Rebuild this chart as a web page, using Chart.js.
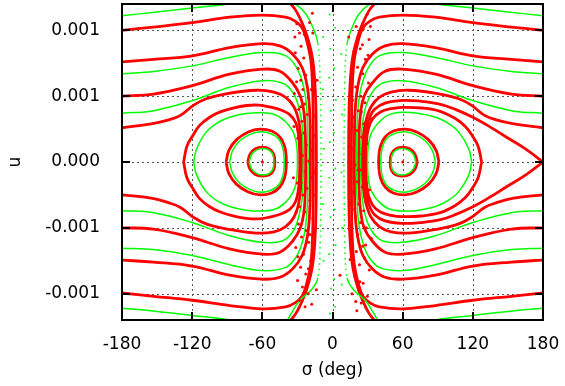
<!DOCTYPE html>
<html>
<head>
<meta charset="utf-8">
<script src="https://cdn.jsdelivr.net/npm/chart.js@4"></script>
<style>
  html, body { margin: 0; padding: 0; background: #fff; }
  canvas { display: block; }
</style>
</head>
<body>
<canvas id="grafico" width="565" height="386"></canvas>
<script>
// axes (u is stored in units of 1e-3)
const xTicks = [-180, -120, -60, 0, 60, 120, 180];
const xTickLabels = ['-180', '-120', '-60', '0', '60', '120', '180'];
const yTicks = [-1, -0.5, 0, 0.5, 1];
const yTickLabels = ['-0.001', '-0.001', '0.000', '0.001', '0.001'];

// tadpole orbits, island at sigma = -60
const tadL1r = [[-72.5,0],[-70.5,0.06],[-66,0.1],[-60,0.113],[-54,0.1],[-50.3,0.06],[-49.3,0],[-50.3,-0.06],[-54,-0.097],[-60,-0.107],[-66,-0.095],[-70.5,-0.055],[-72.5,0]];
const tadL1g = [[-71.2,0],[-69.3,0.055],[-65,0.09],[-59.5,0.102],[-54.3,0.09],[-51,0.055],[-50.2,0],[-51,-0.055],[-54.3,-0.088],[-59.5,-0.099],[-65,-0.086],[-69.3,-0.05],[-71.2,0]];
const tadL2r = [[-91,0],[-88.5,0.09],[-82,0.17],[-72,0.228],[-62,0.25],[-52,0.235],[-45,0.19],[-41,0.12],[-39.6,0.04],[-39.6,-0.04],[-41,-0.12],[-45,-0.19],[-52,-0.235],[-62,-0.25],[-72,-0.228],[-82,-0.17],[-88.5,-0.09],[-91,0]];
const tadL2g = [[-88,0],[-85.5,0.085],[-79.5,0.16],[-70.5,0.21],[-61.5,0.23],[-52.5,0.215],[-46,0.175],[-42.6,0.11],[-41.4,0.035],[-41.4,-0.035],[-42.6,-0.11],[-46,-0.175],[-52.5,-0.215],[-61.5,-0.23],[-70.5,-0.21],[-79.5,-0.16],[-85.5,-0.085],[-88,0]];
const tadL3g = [[-118.7,0],[-116.2,0.1],[-108,0.227],[-98,0.3],[-88,0.34],[-74,0.368],[-60,0.374],[-48,0.355],[-39.5,0.3],[-33.8,0.23],[-31.2,0.16],[-30.2,0.08],[-30,0],[-30.2,-0.08],[-31.2,-0.16],[-33.8,-0.23],[-39.5,-0.3],[-48,-0.355],[-60,-0.372],[-74,-0.366],[-88,-0.338],[-98,-0.298],[-108,-0.225],[-116.2,-0.1],[-118.7,0]];
const tadL3r = [[-127.3,0],[-124.5,0.12],[-119.5,0.2],[-113.6,0.278],[-105,0.34],[-96.5,0.379],[-85,0.41],[-73.7,0.429],[-63,0.432],[-53.7,0.418],[-44,0.395],[-36.6,0.36],[-31.5,0.3],[-29,0.2],[-28.2,0.1],[-28,0],[-28.2,-0.1],[-29,-0.2],[-31.5,-0.3],[-36.6,-0.36],[-44,-0.395],[-53.7,-0.418],[-63,-0.432],[-73.7,-0.428],[-85,-0.41],[-96.5,-0.378],[-105,-0.34],[-113.6,-0.278],[-119.5,-0.2],[-124.5,-0.12],[-127.3,0]];

// tadpole orbits, island at sigma = +60
const tadR1r = [[72.5,0],[70.5,0.06],[66,0.1],[60,0.113],[54,0.1],[50.3,0.06],[49.3,0],[50.3,-0.06],[54,-0.097],[60,-0.107],[66,-0.095],[70.5,-0.055],[72.5,0]];
const tadR1g = [[71.2,0],[69.3,0.055],[65,0.09],[59.5,0.102],[54.3,0.09],[51,0.055],[50.2,0],[51,-0.055],[54.3,-0.088],[59.5,-0.099],[65,-0.086],[69.3,-0.05],[71.2,0]];
const tadR2r = [[91,0],[88.5,0.09],[82,0.17],[72,0.228],[62,0.25],[52,0.235],[45,0.19],[41,0.12],[39.6,0.04],[39.6,-0.04],[41,-0.12],[45,-0.19],[52,-0.235],[62,-0.25],[72,-0.228],[82,-0.17],[88.5,-0.09],[91,0]];
const tadR2g = [[88,0],[85.5,0.085],[79.5,0.16],[70.5,0.21],[61.5,0.23],[52.5,0.215],[46,0.175],[42.6,0.11],[41.4,0.035],[41.4,-0.035],[42.6,-0.11],[46,-0.175],[52.5,-0.215],[61.5,-0.23],[70.5,-0.21],[79.5,-0.16],[85.5,-0.085],[88,0]];
const tadR3g = [[119,0],[116.5,0.1],[108,0.227],[98,0.3],[88,0.34],[74,0.368],[60,0.378],[48,0.358],[39.5,0.3],[33.8,0.23],[31.2,0.16],[30.2,0.08],[30,0],[30.2,-0.08],[31.2,-0.16],[33.8,-0.23],[39.5,-0.3],[48,-0.355],[60,-0.372],[74,-0.366],[88,-0.338],[98,-0.298],[108,-0.225],[116.5,-0.1],[119,0]];
const tadR3r = [[127.5,0],[124.5,0.12],[119.5,0.2],[113.6,0.27],[105,0.33],[92,0.385],[76,0.41],[60,0.415],[50,0.405],[41,0.38],[34.5,0.33],[30.6,0.25],[29,0.15],[28.6,0],[29,-0.15],[30.6,-0.25],[34.5,-0.33],[41,-0.38],[50,-0.405],[60,-0.415],[76,-0.41],[92,-0.385],[105,-0.33],[113.6,-0.27],[119.5,-0.2],[124.5,-0.12],[127.5,0]];
const sepR = [[180,0],[165,0.1],[148.5,0.19],[135,0.265],[120,0.34],[105,0.4],[91.6,0.44],[75,0.462],[60,0.468],[45,0.447],[36,0.4],[31,0.32],[28,0.2],[27.1,0.08],[26.9,0],[27.1,-0.08],[28,-0.2],[31,-0.32],[36,-0.4],[45,-0.447],[60,-0.466],[75,-0.46],[91.6,-0.44],[105,-0.4],[120,-0.34],[135,-0.265],[148.5,-0.19],[165,-0.1],[180,0]];
const islandCenters = [[-60,0],[60,0]];

// horseshoe orbits, left half
const hsL1r = [[-180,0.26],[-155,0.29],[-140,0.32],[-130,0.354],[-119,0.43],[-108,0.48],[-90,0.52],[-65,0.545],[-50,0.53],[-40,0.49],[-33,0.42],[-28.8,0.31],[-27,0.17],[-26.5,0],[-27,-0.17],[-28.8,-0.31],[-33,-0.42],[-40,-0.49],[-50,-0.53],[-65,-0.54],[-90,-0.51],[-108,-0.47],[-119,-0.42],[-130,-0.345],[-140,-0.31],[-155,-0.275],[-180,-0.25]];
const hsL2g = [[-180,0.37],[-153,0.39],[-120,0.466],[-88,0.567],[-60,0.617],[-43,0.6],[-34,0.53],[-29,0.42],[-26,0.28],[-25.2,0.13],[-25,0],[-25.2,-0.13],[-26,-0.28],[-29,-0.42],[-34,-0.53],[-43,-0.6],[-60,-0.61],[-88,-0.56],[-120,-0.46],[-153,-0.385],[-180,-0.37]];
const hsL3r = [[-180,0.5],[-153,0.516],[-120,0.58],[-88,0.667],[-60,0.705],[-45,0.69],[-34,0.6],[-27.5,0.5],[-24.3,0.37],[-23.3,0.22],[-23,0.1],[-23,-0.1],[-23.3,-0.22],[-24.3,-0.37],[-27.5,-0.5],[-34,-0.6],[-45,-0.685],[-60,-0.7],[-88,-0.66],[-120,-0.575],[-153,-0.51],[-180,-0.5]];
const hsL4g = [[-180,0.67],[-153,0.688],[-120,0.73],[-88,0.793],[-60,0.831],[-40,0.806],[-31,0.72],[-25.5,0.6],[-22.5,0.45],[-21.3,0.27],[-21,0.1],[-21,-0.1],[-21.3,-0.27],[-22.5,-0.45],[-25.5,-0.6],[-31,-0.72],[-40,-0.8],[-60,-0.825],[-88,-0.78],[-120,-0.71],[-153,-0.665],[-180,-0.655]];
const hsL5r = [[-180,0.76],[-153,0.78],[-120,0.806],[-88,0.869],[-60,0.899],[-45,0.882],[-34,0.819],[-26,0.718],[-21.5,0.567],[-19.5,0.38],[-19,0.18],[-18.9,0],[-19,-0.18],[-19.5,-0.38],[-21.5,-0.567],[-26,-0.71],[-34,-0.81],[-45,-0.875],[-60,-0.89],[-88,-0.86],[-120,-0.79],[-153,-0.76],[-180,-0.745]];
const hsL6r = [[-180,1.0],[-153,1.025],[-120,1.058],[-88,1.1],[-60,1.116],[-40,1.1],[-32,1.07],[-26,1.02],[-22,0.92],[-18.5,0.768],[-17,0.55],[-16.5,0.3],[-16.4,0],[-16.5,-0.3],[-17,-0.55],[-18.5,-0.77],[-22,-0.92],[-26,-1.02],[-32,-1.07],[-40,-1.1],[-60,-1.115],[-88,-1.09],[-120,-1.05],[-153,-1.02],[-180,-0.995]];
const hsL7g = [[-180,1.11],[-150,1.14],[-120,1.17],[-88,1.2],[-60,1.24],[-40,1.23],[-31,1.195],[-22.4,1.12],[-16.7,1.02],[-12.5,0.9],[-10.5,0.6],[-10,0.3],[-9.8,0],[-10,-0.3],[-10.5,-0.6],[-12.5,-0.88],[-18,-0.97],[-28,-1.05],[-36,-1.16],[-42,-1.24],[-60,-1.26],[-88,-1.2],[-120,-1.165],[-150,-1.135],[-180,-1.11]];
const hsL8r = [[-180,1.2],[-165,1.215],[-150,1.24],[-120,1.27],[-60,1.3],[-40,1.25],[-35.2,1.196],[-31,1.146],[-26.7,1.07],[-21.5,0.95],[-17,0.78],[-14.8,0.55],[-14,0.3],[-13.8,0],[-14,-0.3],[-14.8,-0.55],[-17,-0.78],[-21.5,-0.95],[-26.7,-1.07],[-31,-1.146],[-35.2,-1.196],[-40,-1.25]];

// horseshoe orbits, right half
const hsR1r = [[180,0.26],[155,0.29],[140,0.32],[130,0.354],[119,0.43],[108,0.48],[90,0.52],[65,0.545],[50,0.53],[40,0.49],[33,0.42],[28.5,0.31],[26,0.17],[25.5,0],[26,-0.17],[28.5,-0.31],[33,-0.42],[40,-0.49],[50,-0.53],[65,-0.54],[90,-0.51],[108,-0.47],[119,-0.42],[130,-0.345],[140,-0.31],[155,-0.275],[180,-0.25]];
const hsR2g = [[180,0.37],[153,0.39],[120,0.466],[88,0.567],[60,0.617],[43,0.6],[34,0.53],[28.5,0.42],[25.5,0.28],[24.3,0.13],[24,0],[24.3,-0.13],[25.5,-0.28],[28.5,-0.42],[34,-0.53],[43,-0.6],[60,-0.61],[88,-0.56],[120,-0.46],[153,-0.385],[180,-0.37]];
const hsR3r = [[180,0.5],[153,0.516],[120,0.58],[88,0.667],[60,0.705],[45,0.69],[34,0.6],[27,0.5],[24,0.37],[22.8,0.22],[22.5,0.1],[22.5,-0.1],[22.8,-0.22],[24,-0.37],[27,-0.5],[34,-0.6],[45,-0.685],[60,-0.7],[88,-0.66],[120,-0.575],[153,-0.51],[180,-0.5]];
const hsR4g = [[180,0.67],[153,0.688],[120,0.73],[88,0.793],[60,0.831],[40,0.806],[31,0.72],[25.5,0.6],[22.3,0.45],[21,0.27],[20.7,0.1],[20.7,-0.1],[21,-0.27],[22.3,-0.45],[25.5,-0.6],[31,-0.72],[40,-0.8],[60,-0.825],[88,-0.78],[120,-0.71],[153,-0.665],[180,-0.655]];
const hsR5r = [[180,0.76],[153,0.78],[120,0.806],[88,0.869],[60,0.899],[45,0.882],[34,0.819],[26,0.718],[21.5,0.567],[19.3,0.38],[18.8,0.18],[18.7,0],[18.8,-0.18],[19.3,-0.38],[21.5,-0.567],[26,-0.71],[34,-0.81],[45,-0.875],[60,-0.89],[88,-0.86],[120,-0.79],[153,-0.76],[180,-0.745]];
const hsR6r = [[180,1.0],[153,1.025],[120,1.058],[88,1.1],[60,1.116],[40,1.1],[32,1.07],[26,1.02],[22,0.92],[18.5,0.768],[16.8,0.55],[16.3,0.3],[16.2,0],[16.3,-0.3],[16.8,-0.55],[18.5,-0.77],[22,-0.92],[26,-1.02],[32,-1.07],[40,-1.1],[60,-1.115],[88,-1.09],[120,-1.05],[153,-1.02],[180,-0.995]];
const hsR7g = [[180,1.11],[150,1.14],[120,1.17],[88,1.2],[60,1.24],[40,1.23],[31,1.195],[22.4,1.12],[16.7,1.02],[12.5,0.9],[10.5,0.6],[10,0.3],[9.8,0],[10,-0.3],[10.5,-0.6],[12.5,-0.88],[18,-0.97],[28,-1.05],[36,-1.16],[42,-1.24],[60,-1.26],[88,-1.2],[120,-1.165],[150,-1.135],[180,-1.11]];
const hsR8r = [[180,1.2],[165,1.215],[150,1.24],[120,1.27],[60,1.3],[40,1.25],[35.2,1.196],[31,1.146],[26.7,1.07],[21.5,0.95],[17,0.78],[14.8,0.55],[14,0.3],[13.8,0],[14,-0.3],[14.8,-0.55],[17,-0.78],[21.5,-0.95],[26.7,-1.07],[31,-1.146],[35.2,-1.196],[40,-1.25]];

// scattered points of the chaotic zone near sigma = 0
const chaosRedL = [[-30.5,1.05],[-28.2,0.98],[-26.9,0.88],[-31.8,0.83],[-24.6,0.79],[-29.4,0.71],[-22.8,0.66],[-27.1,0.62],[-25.3,0.55],[-32.6,0.52],[-20.7,0.49],[-23.9,0.44],[-28.8,0.4],[-21.6,0.36],[-26.2,0.31],[-18.9,0.27],[-24.4,0.22],[-29.7,0.18],[-22.3,0.13],[-17.5,0.09],[-25.8,0.05],[-20.1,0.01],[-27.6,-0.03],[-23.2,-0.07],[-18.3,-0.12],[-30.2,-0.16],[-21.9,-0.2],[-25.1,-0.25],[-19.4,-0.29],[-27.9,-0.34],[-23.6,-0.38],[-16.8,-0.43],[-29.1,-0.47],[-22.4,-0.52],[-26.5,-0.57],[-20.3,-0.61],[-31.4,-0.65],[-24.8,-0.7],[-18.6,-0.75],[-27.3,-0.8],[-22.9,-0.85],[-29.9,-0.9],[-25.7,-0.95],[-20.8,-1.0],[-28.4,-1.05],[-23.5,-1.1],[-15.2,-0.62],[-14.6,0.35],[-13.8,-0.97],[-16.1,0.72],[-17.2,1.13],[-19.6,1.06],[-16.9,0.98],[-15.7,0.2],[-16.2,-0.25],[-13.2,0.62],[-32.9,0.27],[-31.1,-0.38],[-33.4,-0.12],[-30.7,0.61],[-21.2,0.92],[-19.2,-0.55],[-26.9,-0.16],[-24.1,0.97],[-17.8,-1.08],[-29.6,-0.72],[-23.8,0.33],[-20.6,-0.81],[-15.4,-0.08],[-18.1,0.55],[-32.2,0.95],[-27.2,0.42]];
const chaosRedR = [[29.6,1.12],[26.3,1.01],[31.2,0.93],[23.7,0.86],[28.1,0.78],[21.4,0.72],[25.9,0.67],[30.8,0.6],[19.8,0.57],[24.2,0.5],[27.7,0.45],[22.1,0.39],[18.4,0.34],[26.8,0.29],[20.9,0.24],[24.9,0.19],[29.3,0.14],[17.6,0.1],[22.7,0.06],[26.1,0.02],[19.3,-0.02],[23.8,-0.06],[28.6,-0.11],[21.2,-0.15],[25.4,-0.19],[17.9,-0.23],[30.1,-0.28],[22.5,-0.32],[26.7,-0.37],[19.6,-0.41],[24.1,-0.46],[28.9,-0.5],[21.7,-0.55],[16.4,-0.59],[25.8,-0.64],[20.4,-0.68],[27.4,-0.73],[23.1,-0.78],[31.5,-0.82],[19.1,-0.87],[26.2,-0.92],[22.4,-0.97],[29.8,-1.02],[24.6,-1.07],[20.8,-1.13],[15.3,0.63],[14.7,-0.31],[13.9,0.95],[16.6,-1.0],[18.2,0.84],[6.4,-0.86],[15.9,-0.05],[17.1,0.47],[32.7,0.33],[31.6,-0.21],[33.1,-0.58],[20.2,1.03],[18.9,-0.36],[27.1,0.11],[23.4,-0.91],[16.8,0.27],[30.4,0.81],[21.9,-0.06],[25.6,0.89],[19.9,-1.06],[28.3,-0.63],[15.1,-0.74],[24.7,0.38],[32.4,1.03]];
const chaosGreen = [[-2.5,1.12],[-1.9,0.86],[2.2,1.02],[-2.8,0.64],[1.6,0.71],[-1.4,0.39],[2.9,0.47],[-2.2,0.15],[1.2,0.22],[-2.6,-0.12],[2.4,-0.05],[-1.7,-0.42],[1.9,-0.36],[-2.9,-0.7],[2.7,-0.63],[-1.3,-0.96],[1.4,-0.89],[-2.1,-1.15],[2.3,-1.1],[-7.8,0.95],[-8.3,0.55],[-7.4,0.1],[-8.1,-0.32],[-7.6,-0.75],[7.5,0.82],[8.2,0.36],[7.7,-0.08],[8.4,-0.5],[7.9,-0.93]];

const ROJO = '#ff0000';
const VERDE = '#00ff00';
const fuente = { family: 'DejaVu Sans', size: 17 };

const aPuntos = arr => arr.map(([x, y]) => ({ x, y }));

const curva = (arr, color) => ({
    data: aPuntos(arr),
    showLine: true,
    borderColor: color,
    backgroundColor: color,
    borderWidth: color === ROJO ? 2.8 : 1.5,
    pointRadius: 0,
    tension: 0.4,
    order: color === ROJO ? 2 : 1,
    segment: {
        // fast passage near sigma = 0 shows up as a dotted trail
        borderDash: ctx => (Math.abs(ctx.p0.parsed.x) < 13 && Math.abs(ctx.p1.parsed.x) < 13) ? [1.5, 4] : undefined
    }
});

const nube = (arr, color, r) => ({
    data: aPuntos(arr),
    showLine: false,
    pointRadius: r,
    pointBorderWidth: 0,
    backgroundColor: color,
    borderColor: color,
    order: 0
});

const rojas = [tadL1r, tadL2r, tadL3r, tadR1r, tadR2r, tadR3r, sepR,
    hsL1r, hsL3r, hsL5r, hsL6r, hsL8r, hsR1r, hsR3r, hsR5r, hsR6r, hsR8r];
const verdes = [tadL1g, tadL2g, tadL3g, tadR1g, tadR2g, tadR3g,
    hsL2g, hsL4g, hsL7g, hsR2g, hsR4g, hsR7g];

const datasets = [
    ...rojas.map(c => curva(c, ROJO)),
    ...verdes.map(c => curva(c, VERDE)),
    nube(chaosRedL, ROJO, 1.5),
    nube(chaosRedR, ROJO, 1.5),
    nube(chaosGreen, VERDE, 1),
    nube(islandCenters, ROJO, 1.5)
];

// gnuplot-like frame: dotted grid, border and inward ticks
const marco = {
    id: 'marco',
    beforeDatasetsDraw(chart) {
        const { ctx, chartArea: a, scales: { x, y } } = chart;
        ctx.save();
        ctx.strokeStyle = '#555';
        ctx.lineWidth = 1;
        ctx.setLineDash([2, 3]);
        xTicks.filter(v => v > -180 && v < 180).forEach(v => {
            const px = Math.round(x.getPixelForValue(v)) + 0.5;
            ctx.beginPath(); ctx.moveTo(px, a.top); ctx.lineTo(px, a.bottom); ctx.stroke();
        });
        yTicks.forEach(v => {
            const py = Math.round(y.getPixelForValue(v)) + 0.5;
            ctx.beginPath(); ctx.moveTo(a.left, py); ctx.lineTo(a.right, py); ctx.stroke();
        });
        ctx.restore();
    },
    afterDatasetsDraw(chart) {
        const { ctx, chartArea: a, scales: { x, y } } = chart;
        ctx.save();
        ctx.strokeStyle = '#000';
        ctx.lineWidth = 2;
        ctx.setLineDash([]);
        ctx.strokeRect(a.left, a.top, a.right - a.left, a.bottom - a.top);
        const t = 8;
        ctx.beginPath();
        xTicks.forEach(v => {
            const px = Math.round(x.getPixelForValue(v));
            ctx.moveTo(px, a.bottom); ctx.lineTo(px, a.bottom - t);
            ctx.moveTo(px, a.top); ctx.lineTo(px, a.top + t);
        });
        yTicks.forEach(v => {
            const py = Math.round(y.getPixelForValue(v));
            ctx.moveTo(a.left, py); ctx.lineTo(a.left + t, py);
            ctx.moveTo(a.right, py); ctx.lineTo(a.right - t, py);
        });
        ctx.stroke();
        ctx.restore();
    }
};

const ctx = document.getElementById('grafico').getContext('2d');
new Chart(ctx, {
    type: 'scatter',
    data: { datasets },
    options: {
        responsive: false,
        animation: false,
        layout: { padding: { left: 0, right: 22, top: 2, bottom: 0 } },
        plugins: { legend: { display: false }, tooltip: { enabled: false } },
        scales: {
            x: {
                type: 'linear',
                min: -180,
                max: 180,
                grid: { display: false },
                border: { display: false },
                afterBuildTicks: s => { s.ticks = xTicks.map(v => ({ value: v })); },
                afterFit: s => { s.height = 66; s.paddingLeft = 0; s.paddingRight = 0; },
                ticks: {
                    color: '#000',
                    font: fuente,
                    padding: 6,
                    maxRotation: 0,
                    autoSkip: false,
                    callback: v => xTickLabels[xTicks.indexOf(v)]
                },
                title: { display: true, text: 'σ (deg)', color: '#000', font: fuente, padding: { top: 0, bottom: 5 } }
            },
            y: {
                type: 'linear',
                min: -1.2,
                max: 1.2,
                grid: { display: false },
                border: { display: false },
                afterBuildTicks: s => { s.ticks = yTicks.map(v => ({ value: v })); },
                afterFit: s => { s.width = 122; s.paddingTop = 0; s.paddingBottom = 0; },
                ticks: {
                    color: '#000',
                    font: fuente,
                    padding: 14,
                    autoSkip: false,
                    callback: v => yTickLabels[yTicks.indexOf(v)]
                },
                title: { display: true, text: 'u', color: '#000', font: fuente, padding: { top: 5, bottom: 0 } }
            }
        }
    },
    plugins: [marco]
});
</script>
</body>
</html>
